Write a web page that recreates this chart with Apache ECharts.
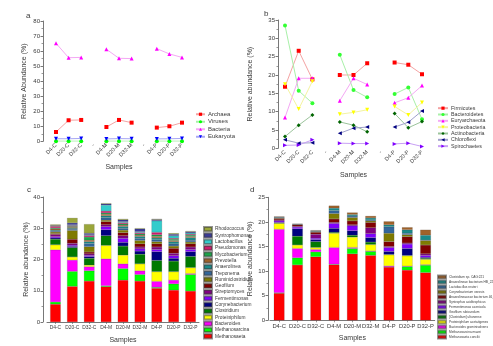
<!DOCTYPE html>
<html><head><meta charset="utf-8">
<script src="https://cdn.jsdelivr.net/npm/echarts@6/dist/echarts.min.js"></script>
<style>html,body{margin:0;padding:0;background:#fff}#main{width:493px;height:346px}</style>
</head><body><div id="main"></div>
<script>
// ---- categories ----
const lineSamples = ['D4-C','D20-C','D32-C','-','D4-M','D20-M','D32-M','-','D4-P','D20-P','D32-P'];
const barSamples = ['D4-C','D20-C','D32-C','D4-M','D20-M','D32-M','D4-P','D20-P','D32-P'];

// ---- a: domains (null = spacer between groups) ----
const archaea   = [6.2,14.0,14.2,null,9.5,14.2,12.4,null,9.1,10.0,12.4];
const viruses   = [0.1,0.1,0.1,null,0.1,0.1,0.1,null,0.1,0.1,0.1];
const bacteria  = [65.2,55.6,55.8,null,61.2,55.2,55.0,null,61.6,58.1,55.8];
const eukaryota = [1.7,1.7,1.9,null,1.6,1.8,1.7,null,1.6,1.7,1.9];

// ---- b: phyla ----
const firmicutes     = [16.8,26.6,18.8,null,20.0,20.0,23.2,null,23.4,22.8,20.2];
const bacteroidetes  = [33.5,15.7,12.3,null,25.5,15.9,13.9,null,14.8,16.6,7.9];
const euryarchaeota  = [8.4,19.1,19.1,null,13.0,19.1,17.4,null,12.4,13.8,17.1];
const proteobacteria = [17.5,10.7,18.3,null,9.3,9.8,10.5,null,11.4,9.1,12.5];
const actinobacteria = [3.2,6.3,9.1,null,7.2,6.3,4.5,null,9.5,5.6,7.3];
const chloroflexi    = [2.3,1.4,1.5,null,4.1,5.5,5.8,null,5.8,7.1,10.2];
const spirochaetes   = [0.8,0.9,2.3,null,1.4,1.3,1.3,null,1.2,1.4,0.5];

// ---- c: genera (bottom to top of each stack) ----
const methanosaeta      = [5.7,11.4,13.1,11.3,13.4,13.1,10.8,10.2,9.9];
const methanosarcina    = [0.7,4.8,3.3,0.3,3.7,2.1,0.3,2.0,5.3];
const bacteroidesG      = [16.7,3.6,1.3,8.6,1.5,1.2,1.9,1.2,0.3];
const proteiniphilum    = [1.6,1.0,0.5,4.3,2.8,2.2,3.1,2.7,1.9];
const clostridium       = [1.8,3.0,2.2,3.1,2.9,3.1,3.6,3.4,3.6];
const corynebacterium   = [0.4,0.4,0.5,1.9,1.2,1.0,2.8,0.9,1.5];
const fermentimonas     = [0.4,0.4,0.4,1.0,1.3,0.7,0.7,0.8,0.7];
const streptomyces      = [0.7,0.6,0.5,0.6,0.8,0.6,0.8,0.8,0.8];
const geofilum          = [0.3,1.3,0.6,1.0,1.0,1.0,1.0,1.6,1.0];
const ruminiclostridium = [0.5,2.8,1.7,0.5,0.8,1.1,0.7,0.7,0.6];
const treponema         = [0.3,0.4,1.0,0.8,0.6,0.7,0.6,0.7,0.6];
const anaerolinea       = [0.3,0.3,0.6,0.6,0.6,0.6,0.6,0.7,0.8];
const prevotella        = [0.4,0.3,0.5,0.5,0.4,0.4,0.5,0.4,0.4];
const mycobacterium     = [0.3,0.3,1.0,0.4,0.4,0.4,0.5,0.4,0.4];
const pseudomonas       = [0.5,0.3,0.5,0.6,0.4,0.4,0.8,0.3,0.3];
const lactobacillus     = [0.1,0.2,0.2,1.9,0.3,0.3,3.7,0.8,0.4];
const syntrophomonas    = [0.2,0.6,0.5,0.4,0.6,0.9,0.4,0.5,0.4];
const rhodococcus       = [0.3,1.6,2.9,0.2,0.3,0.2,0.2,0.3,0.2];

// ---- d: species (bottom to top of each stack) ----
const mConcilii      = [5.5,11.25,12.9,11.3,13.5,13.2,10.8,10.2,9.7];
const mMazei         = [0.1,1.45,1.0,0.1,1.1,0.8,0.05,0.7,1.5];
const bGraminis      = [12.9,1.9,0.5,3.4,0.2,0.1,0.2,0.1,0.1];
const pAcetatigenes  = [1.2,0.7,0.4,2.9,2.1,1.3,2.25,2.1,1.1];
const cUltunense     = [0.1,1.8,1.2,0.2,0.4,0.5,0.1,0.1,0.2];
const gRubicundum    = [0.1,1.5,0.4,0.8,0.9,0.9,0.6,1.4,0.2];
const fCaenicola     = [0.3,0.35,0.3,1.0,1.0,0.8,0.8,0.9,0.4];
const sAciditrophicus= [0.2,0.15,0.8,0.2,0.2,1.2,0.2,0.2,0.3];
const aBact4622      = [0.3,0.3,0.4,0.7,0.8,1.1,1.0,1.3,1.8];
const cXerosis       = [0.1,0.05,0.1,1.1,0.7,0.3,1.7,0.4,0.9];
const lReuteri       = [0.1,0.05,0.1,0.6,0.3,0.2,1.3,0.3,0.1];
const aBactHB        = [0.1,0.05,0.1,0.5,0.3,0.4,0.4,0.7,1.0];
const cCAG221        = [0.1,0.05,0.1,0.5,0.4,0.4,0.7,0.5,1.1];

const font = 'Liberation Sans, Arial, sans-serif';
const txt = '#3a3a3a';
const axisCol = '#555';

function lineSeries(name, data, color, lineColor, symbol, rot, axis) {
  return {
    name, type: 'line', data, xAxisIndex: axis, yAxisIndex: axis,
    connectNulls: false, symbol, symbolSize: 4, symbolRotate: rot,
    itemStyle: {color}, lineStyle: {color: lineColor, width: 1}, z: 3
  };
}
function barSeries(name, data, color, axis, stack, width) {
  return {
    name, type: 'bar', stack, data, xAxisIndex: axis, yAxisIndex: axis,
    barWidth: width, itemStyle: {color, borderColor: 'rgba(60,60,60,0.55)', borderWidth: 0.3}
  };
}

const cGenera = [
  ['Methanosaeta', methanosaeta, '#ff0000'],
  ['Methanosarcina', methanosarcina, '#00ff00'],
  ['Bacteroides', bacteroidesG, '#ff00ff'],
  ['Proteiniphilum', proteiniphilum, '#ffff00'],
  ['Clostridium', clostridium, '#007a00'],
  ['Corynebacterium', corynebacterium, '#000080'],
  ['Fermentimonas', fermentimonas, '#8000ff'],
  ['Streptomyces', streptomyces, '#800080'],
  ['Geofilum', geofilum, '#800000'],
  ['Ruminiclostridium', ruminiclostridium, '#7f7a00'],
  ['Treponema', treponema, '#33669a'],
  ['Anaerolinea', anaerolinea, '#1a8a8a'],
  ['Prevotella', prevotella, '#a0622a'],
  ['Mycobacterium', mycobacterium, '#1aa84a'],
  ['Pseudomonas', pseudomonas, '#cc1a6a'],
  ['Lactobacillus', lactobacillus, '#33cccc'],
  ['Syntrophomonas', syntrophomonas, '#3a3a9a'],
  ['Rhodococcus', rhodococcus, '#9aa63a']
];
const dSpecies = [
  ['Methanosaeta concilii', mConcilii, '#ff0000'],
  ['Methanosarcina mazei', mMazei, '#00ff00'],
  ['Bacteroides graminisolvens', bGraminis, '#ff00ff'],
  ['Proteiniphilum acetatigenes', pAcetatigenes, '#ffff00'],
  ['[Clostridium] ultunense', cUltunense, '#007a00'],
  ['Geofilum rubicundum', gRubicundum, '#000080'],
  ['Fermentimonas caenicola', fCaenicola, '#8000ff'],
  ['Syntrophus aciditrophicus', sAciditrophicus, '#800080'],
  ['Anaerolineaceae bacterium 46_22', aBact4622, '#800000'],
  ['Corynebacterium xerosis', cXerosis, '#7f7a00'],
  ['Lactobacillus reuteri', lReuteri, '#33669a'],
  ['Anaerolineae bacterium HB_22', aBactHB, '#1a8a8a'],
  ['Clostridium sp. CAG:221', cCAG221, '#a0622a']
];

const series = [
  lineSeries('Archaea', archaea, '#ff0000', '#f4a3a3', 'rect', 0, 0),
  lineSeries('Viruses', viruses, '#00ff00', '#a8f0a8', 'circle', 0, 0),
  lineSeries('Bacteria', bacteria, '#ff00ff', '#f4a8f4', 'triangle', 0, 0),
  lineSeries('Eukaryota', eukaryota, '#0000ff', '#a8a8f4', 'triangle', 180, 0),
  lineSeries('Firmicutes', firmicutes, '#ff0000', '#f4a3a3', 'rect', 0, 1),
  lineSeries('Bacteroidetes', bacteroidetes, '#33ff33', '#a8f0a8', 'circle', 0, 1),
  lineSeries('Euryarchaeota', euryarchaeota, '#ff00ff', '#f4a8f4', 'triangle', 0, 1),
  lineSeries('Proteobacteria', proteobacteria, '#ffff00', '#f4f4a0', 'triangle', 180, 1),
  lineSeries('Actinobacteria', actinobacteria, '#006400', '#9cc49c', 'diamond', 0, 1),
  lineSeries('Chloroflexi', chloroflexi, '#000080', '#a0a0cc', 'triangle', 90, 1),
  lineSeries('Spirochaetes', spirochaetes, '#8000ff', '#c8a0f4', 'triangle', -90, 1)
];
cGenera.forEach(g => series.push(barSeries(g[0], g[1], g[2], 2, 'c', '62%')));
dSpecies.forEach(g => series.push(barSeries(g[0], g[1], g[2], 3, 'd', '58%')));

const yLab = {fontSize: 6, color: txt, fontFamily: font, margin: 3};
function yAxis(idx, max, interval, offset, name, nameGap) {
  return {
    type: 'value', gridIndex: idx, min: 0, max, interval, offset,
    name, nameLocation: 'middle', nameGap,
    nameTextStyle: {fontSize: 7, color: txt, fontFamily: font},
    axisLine: {show: true, lineStyle: {color: axisCol, width: 0.8}},
    axisTick: {show: true, length: 2.5, lineStyle: {color: axisCol, width: 0.8}},
    minorTick: {show: true, splitNumber: 2, length: 1.5, lineStyle: {color: axisCol, width: 0.6}},
    splitLine: {show: false}, axisLabel: yLab
  };
}
function xLineAxis(idx, nameGap) {
  return {
    type: 'category', gridIndex: idx, data: lineSamples, boundaryGap: false,
    name: 'Samples', nameLocation: 'middle', nameGap,
    nameTextStyle: {fontSize: 7, color: txt, fontFamily: font},
    axisLine: {show: false}, axisTick: {show: false},
    axisLabel: {rotate: 45, fontSize: 5.5, color: txt, fontFamily: font, margin: 3, interval: 0}
  };
}
function xBarAxis(idx, nameGap, fs) {
  return {
    type: 'category', gridIndex: idx, data: barSamples,
    name: 'Samples', nameLocation: 'middle', nameGap,
    nameTextStyle: {fontSize: 7, color: txt, fontFamily: font},
    axisLine: {show: true, lineStyle: {color: axisCol, width: 0.8}},
    axisTick: {show: true, length: 2, alignWithLabel: true, lineStyle: {color: axisCol, width: 0.6}},
    axisLabel: {fontSize: fs, color: txt, fontFamily: font, margin: 3.5, interval: 0}
  };
}
function legend(names, left, top, itemW, itemH, fs, lh, icon) {
  const l = {
    data: names, orient: 'vertical', left, top, itemWidth: itemW, itemHeight: itemH,
    itemGap: 0, padding: 0, selectedMode: false,
    textStyle: {fontSize: fs, lineHeight: lh, color: txt, fontFamily: font, padding: [0, 0, 0, -2]}
  };
  if (icon) l.icon = icon;
  return l;
}

const option = {
  animation: false,
  backgroundColor: '#fff',
  textStyle: {fontFamily: font},
  grid: [
    {left: 56, top: 21, width: 126, height: 120.3},
    {left: 285, top: 20, width: 137, height: 128.3},
    {left: 47, top: 197, width: 152, height: 125},
    {left: 270, top: 197.3, width: 164.7, height: 123}
  ],
  xAxis: [xLineAxis(0, 22), xLineAxis(1, 23), xBarAxis(2, 15, 4.9), xBarAxis(3, 14, 5.8)],
  yAxis: [
    yAxis(0, 80, 10, 13, 'Relative Abundance (%)', 15),
    yAxis(1, 35, 5, 7, 'Relative abundance (%)', 24),
    yAxis(2, 40, 10, 4, 'Relative abundance (%)', 12),
    yAxis(3, 25, 5, 2, 'Relative abundance (%)', 14)
  ],
  legend: [
    legend(['Archaea','Viruses','Bacteria','Eukaryota'], 195, 110.5, 9, 4, 6, 7.5),
    legend(['Firmicutes','Bacteroidetes','Euryarchaeota','Proteobacteria','Actinobacteria','Chloroflexi','Spirochaetes'], 437, 105, 10, 4, 5.3, 6.33),
    legend(cGenera.map(g => g[0]).reverse(), 203, 226, 8, 4.3, 4.8, 5.6, 'rect'),
    legend(dSpecies.map(g => g[0]).reverse(), 437, 274.5, 8, 3, 3.2, 3.75, 'rect')
  ],
  graphic: [
    {type: 'text', left: 26, top: 12, style: {text: 'a', fontSize: 8, fill: txt, fontFamily: font}},
    {type: 'text', left: 264, top: 10, style: {text: 'b', fontSize: 8, fill: txt, fontFamily: font}},
    {type: 'text', left: 27, top: 186, style: {text: 'c', fontSize: 8, fill: txt, fontFamily: font}},
    {type: 'text', left: 250, top: 186, style: {text: 'd', fontSize: 8, fill: txt, fontFamily: font}}
  ],
  series
};

const chart = echarts.init(document.getElementById('main'), null, {renderer: 'canvas'});
chart.setOption(option);
</script>
</body></html>
